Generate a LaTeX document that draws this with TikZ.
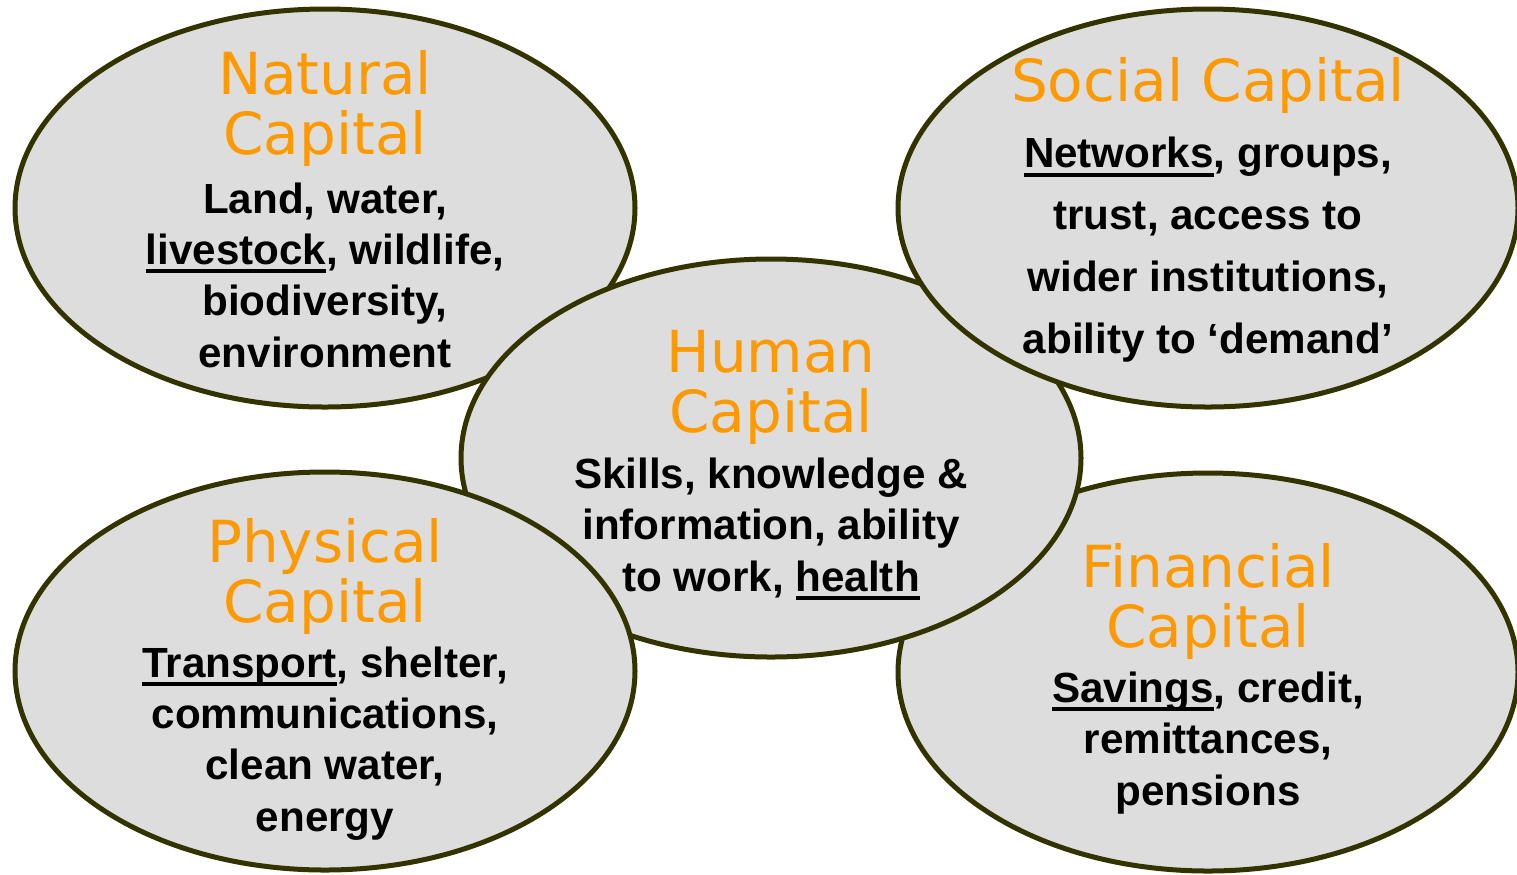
\documentclass[tikz,border=0pt]{standalone}
\usepackage{fontspec}
\setmainfont{Liberation Sans}
\newfontfamily\capfont{DejaVu Sans}
\usetikzlibrary{shapes.geometric,positioning}

\definecolor{capfill}{HTML}{DDDDDD}
\definecolor{capline}{HTML}{333300}
\definecolor{caporange}{HTML}{FF9900}

\newsavebox{\ulbox}
\newcommand{\ulword}[1]{\sbox{\ulbox}{#1}\rlap{\rule[-5pt]{\wd\ulbox}{2.2pt}}\usebox{\ulbox}}

\begin{document}
\begin{tikzpicture}[
capital/.style={ellipse, draw=capline, fill=capfill, line width=0.1cm, minimum width=12.4cm, minimum height=7.96cm, inner sep=0pt},
headtext/.style={align=center, text=caporange, inner sep=0pt, font=\capfont\fontsize{33pt}{34pt}\selectfont},
bodytext/.style={align=center, inner sep=0pt, font=\bfseries\fontsize{24pt}{29.2pt}\selectfont}
]
\useasboundingbox (0,0) rectangle (30.34,-17.48);

%Natural
\node[capital]  (nat)  at (6.5,-4.16)   {};
\node[headtext] (natT) [above=1.08cm of nat.center, anchor=base] {Natural\\Capital};
\node[bodytext] (natB) [below=3.18cm of nat.center, anchor=base] {Land, water,\\\ulword{livestock}, wildlife,\\biodiversity,\\environment};

%Financial
\node[capital]  (fin)  at (24.16,-13.44) {};
\node[headtext] (finT) [above=0.5cm of fin.center, anchor=base]  {Financial\\Capital};
\node[bodytext] (finB) [below=2.66cm of fin.center, anchor=base] {\ulword{Savings}, credit,\\remittances,\\pensions};

%Human
\node[capital]  (hum)  at (15.42,-9.16)  {};
\node[headtext] (humT) [above=0.52cm of hum.center, anchor=base] {Human\\Capital};
\node[bodytext] (humB) [below=2.66cm of hum.center, anchor=base] {Skills, knowledge \&\\information, ability\\to work, \ulword{health}};

%Social
\node[capital]  (soc)  at (24.16,-4.16)  {};
\node[headtext] (socT) [above=2.14cm of soc.center, anchor=base] {Social Capital};
\node[bodytext, font=\bfseries\fontsize{24pt}{35.1pt}\selectfont] (socB) [below=2.9cm of soc.center, anchor=base] {\ulword{Networks}, groups,\\trust, access to\\wider institutions,\\ability to ‘demand’};

%Physical
\node[capital]  (phy)  at (6.5,-13.42)  {};
\node[headtext] (phyT) [above=0.98cm of phy.center, anchor=base] {Physical\\Capital};
\node[bodytext] (phyB) [below=3.2cm of phy.center, anchor=base]  {\ulword{Transport}, shelter,\\communications,\\clean water,\\energy};
\end{tikzpicture}
\end{document}
